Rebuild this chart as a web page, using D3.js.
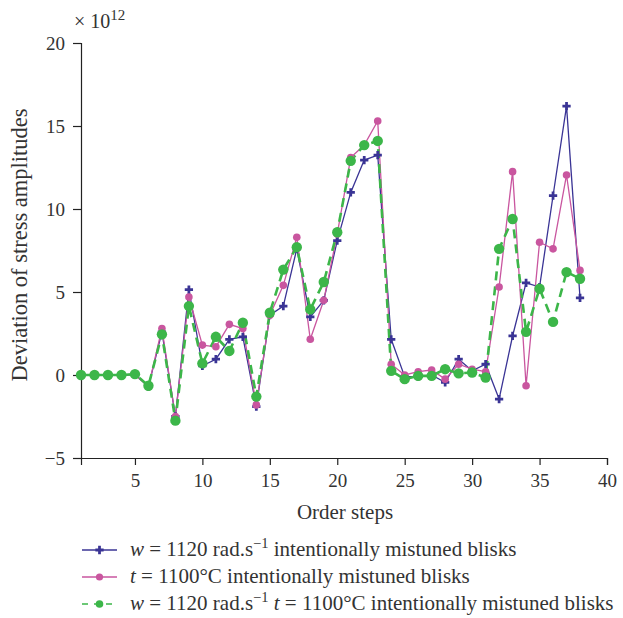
<!DOCTYPE html>
<html><head><meta charset="utf-8">
<script src="https://cdn.jsdelivr.net/npm/d3@7"></script>
<style>body{margin:0;background:#fff}svg{display:block}</style>
</head><body>
<script>
const steps = d3.range(1, 39);
const seriesW = [0,0,0,0,0.05,-0.7,2.6,-2.5,5.15,0.55,0.95,2.15,2.3,-1.9,3.6,4.15,7.6,3.5,4.5,8.1,11.0,12.95,13.25,2.15,-0.1,-0.1,0.0,-0.45,0.95,0.25,0.65,-1.45,2.35,5.55,5.3,10.8,16.2,4.65];
const seriesT = [0,0,0,0,0,-0.7,2.8,-2.5,4.7,1.8,1.7,3.05,2.8,-1.8,3.6,5.4,8.3,2.15,4.5,8.5,13.1,13.85,15.3,0.65,0.0,0.2,0.3,-0.25,0.65,0.35,0.2,5.3,12.25,-0.65,8.0,7.6,12.05,6.3];
const seriesWT = [0,0,0,0,0.05,-0.65,2.45,-2.75,4.15,0.7,2.3,1.45,3.15,-1.3,3.75,6.35,7.7,3.95,5.6,8.6,12.9,13.85,14.1,0.25,-0.25,-0.05,-0.05,0.35,0.1,0.15,-0.15,7.6,9.4,2.6,5.2,3.2,6.2,5.8];
const xTicks = [5,10,15,20,25,30,35,40];
const yTicks = [-5,0,5,10,15,20];
const legendLabels = [
  [{t:"w",i:true},{t:" = 1120 rad.s"},{t:"−1",sup:true},{t:" intentionally mistuned blisks",after:true}],
  [{t:"t",i:true},{t:" = 1100°C intentionally mistuned blisks"}],
  [{t:"w",i:true},{t:" = 1120 rad.s"},{t:"−1",sup:true},{t:" ",after:true},{t:"t",i:true},{t:" = 1100°C intentionally mistuned blisks"}]
];
const colors = ["#3a3495","#c9569f","#3cb649"];

const W=623,H=618;
const FONT="'Liberation Serif','DejaVu Serif',serif";
const svg=d3.select("body").append("svg").attr("width",W).attr("height",H)
  .style("font-family",FONT);
const x=d3.scaleLinear().domain([1,40]).range([81,607]);
const y=d3.scaleLinear().domain([-5,20]).range([458,43]);

const xAxis=svg.append("g").attr("transform","translate(0,458)")
  .call(d3.axisBottom(x).tickValues(xTicks).tickSizeOuter(0).tickSize(7).tickPadding(9));
const yAxis=svg.append("g").attr("transform","translate(81,0)")
  .call(d3.axisLeft(y).tickValues(yTicks).tickSizeOuter(0).tickSize(8).tickPadding(8)
    .tickFormat(d=>d<0?"−"+Math.abs(d):d));
[xAxis,yAxis].forEach(g=>{
  g.selectAll("path,line").attr("stroke","#222").attr("stroke-width",1.2);
  g.selectAll("text").attr("font-size",19).attr("fill","#333").attr("font-family",FONT);
});

svg.append("text").attr("x",345).attr("y",519).attr("text-anchor","middle")
  .attr("font-size",21).attr("fill","#333").text("Order steps");
svg.append("text").attr("transform","translate(27,245) rotate(-90)").attr("text-anchor","middle")
  .attr("font-size",22.5).attr("fill","#333").text("Deviation of stress amplitudes");
const ex=svg.append("text").attr("x",74).attr("y",28).attr("font-size",20).attr("fill","#333");
ex.append("tspan").text("× 10");
ex.append("tspan").attr("dy",-8).attr("font-size",15).text("12");

const line=d3.line().x((d,i)=>x(steps[i])).y(d=>y(d));
const g=svg.append("g");
g.append("path").datum(seriesW).attr("d",line).attr("fill","none").attr("stroke",colors[0]).attr("stroke-width",1.3);
g.append("path").datum(seriesT).attr("d",line).attr("fill","none").attr("stroke",colors[1]).attr("stroke-width",1.3);
g.append("path").datum(seriesWT).attr("d",line).attr("fill","none").attr("stroke",colors[2]).attr("stroke-width",2.6).attr("stroke-dasharray","9,6");

const plus=d3.symbol().type(d3.symbolCross).size(38);
g.selectAll(".pb").data(seriesW).join("path").attr("d",plus)
  .attr("transform",(d,i)=>`translate(${x(steps[i])},${y(d)})`).attr("fill",colors[0]);
g.selectAll(".pt").data(seriesT).join("circle").attr("cx",(d,i)=>x(steps[i])).attr("cy",d=>y(d))
  .attr("r",3.8).attr("fill",colors[1]);
g.selectAll(".pg").data(seriesWT).join("circle").attr("cx",(d,i)=>x(steps[i])).attr("cy",d=>y(d))
  .attr("r",5.2).attr("fill",colors[2]);

const ly=[550,577,604];
legendLabels.forEach((parts,k)=>{
  const yy=ly[k];
  const lg=svg.append("g");
  lg.append("line").attr("x1",82).attr("x2",117).attr("y1",yy).attr("y2",yy)
    .attr("stroke",colors[k]).attr("stroke-width",k==2?1.6:1.4).attr("stroke-dasharray",k==2?"6,6":null);
  if(k==0) lg.append("path").attr("d",plus).attr("transform",`translate(99.5,${yy})`).attr("fill",colors[0]);
  if(k==1) lg.append("circle").attr("cx",99.5).attr("cy",yy).attr("r",3.6).attr("fill",colors[1]);
  if(k==2) lg.append("circle").attr("cx",99.5).attr("cy",yy).attr("r",3.8).attr("fill",colors[2]);
  const t=lg.append("text").attr("x",130).attr("y",yy+6).attr("font-size",21).attr("fill","#333");
  parts.forEach(p=>{
    const s=t.append("tspan").text(p.t);
    if(p.i) s.attr("font-style","italic");
    if(p.sup) s.attr("dy",-8).attr("font-size",14.5);
    if(p.after) s.attr("dy",8);
  });
});
</script>
</body></html>
